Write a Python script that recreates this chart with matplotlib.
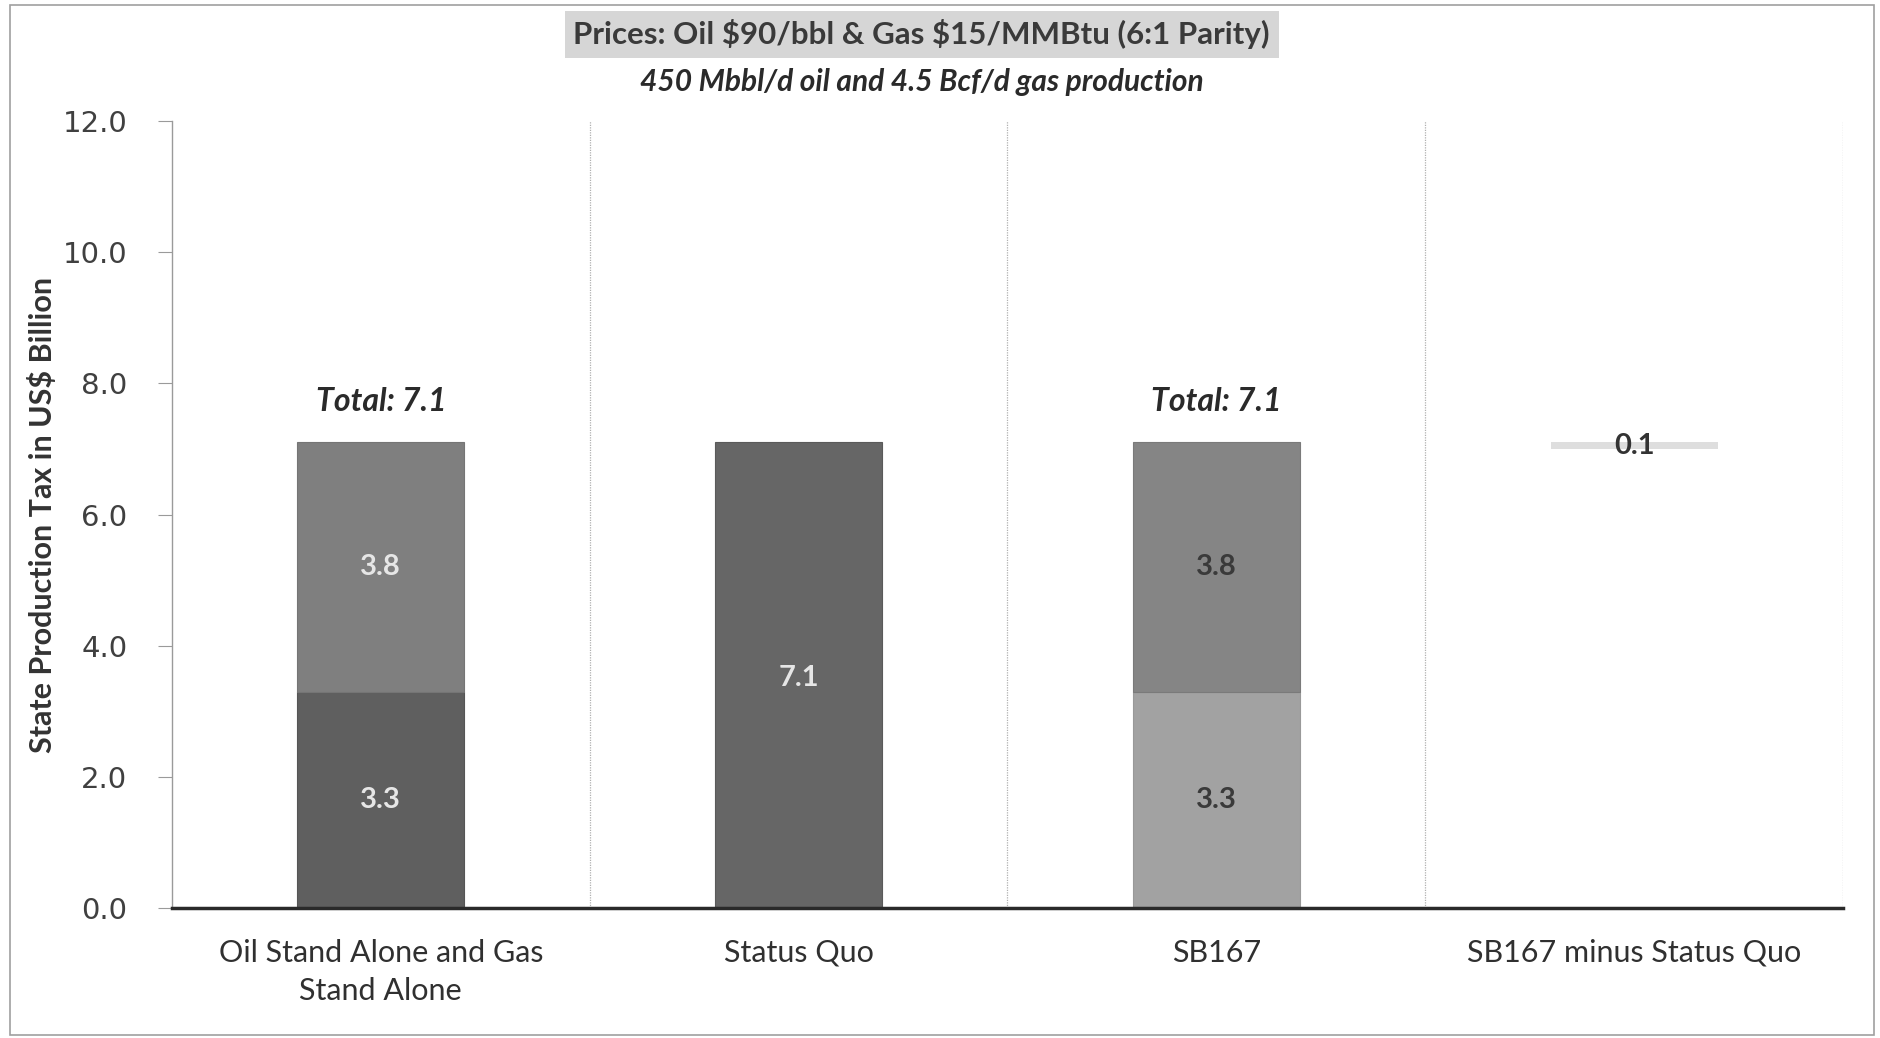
import numpy as np
import matplotlib.pyplot as plt
from matplotlib.patches import Rectangle

# ==== Daten ====
categories = ["Oil Stand Alone and Gas\nStand Alone", "Status Quo", "SB167", "SB167 minus Status Quo"]
oil_part = [3.3, 0.0, 3.3]      # unteres Segment (Spalten 1-3)
gas_part = [3.8, 0.0, 3.8]      # oberes Segment
status_quo = 7.1
diff = 0.1
y_ticks = [0.0, 2.0, 4.0, 6.0, 8.0, 10.0, 12.0]

calibri = ["Lato", "DejaVu Sans"]

fig = plt.figure(figsize=(18.81, 10.38), dpi=100)
ax = fig.add_axes([0.0914, 0.1252, 0.8884, 0.7582])

w = 0.4
x = np.arange(len(categories))

# Spalte 1: Oil + Gas stand alone
ax.bar(x[0], oil_part[0], w, color="#5f5f5f", edgecolor="#555555", lw=0.8)
ax.bar(x[0], gas_part[0], w, bottom=oil_part[0], color="#7f7f7f", edgecolor="#757575", lw=0.8)
# Spalte 2: Status Quo
ax.bar(x[1], status_quo, w, color="#666666", edgecolor="#5a5a5a", lw=0.8)
# Spalte 3: SB167
ax.bar(x[2], oil_part[2], w, color="#a2a2a2", edgecolor="#999999", lw=0.8)
ax.bar(x[2], gas_part[2], w, bottom=oil_part[2], color="#858585", edgecolor="#7a7a7a", lw=0.8)
# Spalte 4: Differenz
ax.bar(x[3], diff, w, bottom=status_quo - diff, color="#dedede", edgecolor="none")

# Werte in den Balken
lbl = dict(ha="center", va="center", fontsize=21, fontweight="bold", family=calibri)
ax.text(x[0], oil_part[0] / 2, f"{oil_part[0]:.1f}", color="#e6e6e6", **lbl)
ax.text(x[0], oil_part[0] + gas_part[0] / 2, f"{gas_part[0]:.1f}", color="#e6e6e6", **lbl)
ax.text(x[1], status_quo / 2 - 0.05, f"{status_quo:.1f}", color="#e6e6e6", **lbl)
ax.text(x[2], oil_part[2] / 2, f"{oil_part[2]:.1f}", color="#3a3a3a", **lbl)
ax.text(x[2], oil_part[2] + gas_part[2] / 2, f"{gas_part[2]:.1f}", color="#3a3a3a", **lbl)
ax.text(x[3], status_quo - diff / 2, f"{diff:.1f}", color="#333333", **lbl)

# Summen
for i in (0, 2):
    total = oil_part[i] + gas_part[i]
    ax.text(x[i], total + 0.62, f"Total: {total:.1f}", ha="center", va="center",
            fontsize=23, fontweight="bold", style="italic", color="#2a2a2a", family=calibri)

# Achsen
ax.set_xlim(-0.5, 3.5)
ax.set_ylim(0, 12)
ax.set_yticks(y_ticks)
ax.set_yticklabels([f"{t:.1f}" for t in y_ticks], fontsize=21, color="#404040", family="DejaVu Sans")
ax.tick_params(axis="y", length=10, width=0.8, color="#9a9a9a", pad=22)
ax.set_xticks(x)
ax.set_xticklabels(categories, fontsize=22, color="#303030", family=calibri, linespacing=1.45)
ax.tick_params(axis="x", length=0, pad=22)

for s in ("top", "right"):
    ax.spines[s].set_visible(False)
ax.spines["left"].set_color("#9a9a9a")
ax.spines["left"].set_linewidth(1.0)
ax.spines["bottom"].set_color("#2a2a2a")
ax.spines["bottom"].set_linewidth(2.5)
ax.spines["bottom"].set_zorder(5)

# Trennlinien zwischen den Kategorien
for xv in (0.5, 1.5, 2.5, 3.5):
    ax.axvline(xv, color="#b0b0b0", lw=0.9, ls=(0, (1, 1)), zorder=0)

ax.set_ylabel("State Production Tax in US$ Billion", fontsize=22, fontweight="bold",
              color="#333333", family=calibri)
ax.yaxis.set_label_coords(-0.069, 0.5)

# Titel mit grauem Kasten
fig.text(0.490, 0.967, r"Prices: Oil \$90/bbl & Gas \$15/MMBtu (6:1 Parity)", ha="center", va="center",
         fontsize=22.5, fontweight="bold", color="#3a3a3a", family=calibri,
         bbox=dict(boxstyle="square,pad=0.28", facecolor="#d6d6d6", edgecolor="none"))
fig.text(0.490, 0.921, "450 Mbbl/d oil and 4.5 Bcf/d gas production", ha="center", va="center",
         fontsize=21.5, fontweight="bold", style="italic", color="#2a2a2a", family=calibri)

# Rahmen um die Grafik
fig.patches.append(Rectangle((10 / 1881, 3 / 1038), 1864 / 1881, 1030 / 1038, transform=fig.transFigure,
                             fill=False, edgecolor="#a0a0a0", lw=1.2))

fig.savefig("out.png", dpi=100)
